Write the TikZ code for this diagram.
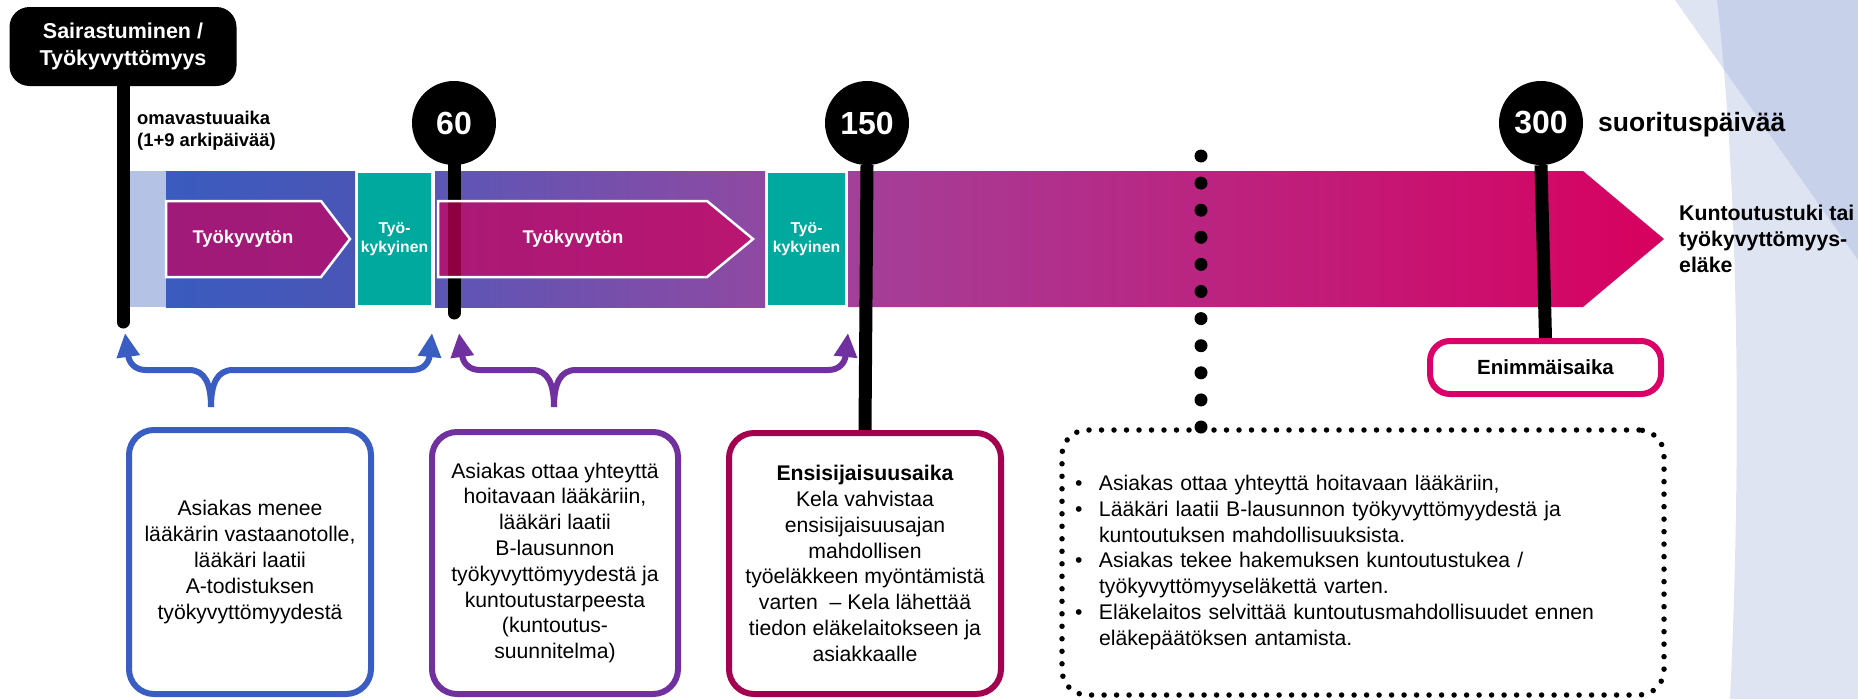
\documentclass[tikz,border=0pt]{standalone}
\usepackage{fontspec}
\setmainfont{Liberation Sans}
\usetikzlibrary{arrows.meta}

\definecolor{barpale}{HTML}{B4C2E6}
\definecolor{barblueA}{HTML}{3A5BBF}
\definecolor{barblueB}{HTML}{4A56B6}
\definecolor{barvioA}{HTML}{5B56B6}
\definecolor{barvioB}{HTML}{8F49A2}
\definecolor{barmagA}{HTML}{A3409A}
\definecolor{barmagM}{HTML}{CF2777}
\definecolor{barmagB}{HTML}{D8005F}
\definecolor{sickmag}{HTML}{CC005C}
\definecolor{fitteal}{HTML}{00A99D}
\definecolor{kblue}{HTML}{3A5DC4}
\definecolor{kpurple}{HTML}{7030A0}
\definecolor{kcrimson}{HTML}{A40050}
\definecolor{kpink}{HTML}{DB0068}
\definecolor{bgblue}{HTML}{8D9FD4}

\begin{document}
\begin{tikzpicture}[x=1pt,y=-1pt,
    startbox/.style={fill=black,text=white,rounded corners=20pt,minimum width=227pt,
      minimum height=79pt,align=center,inner sep=0pt,font=\fontsize{21.5}{27}\selectfont\bfseries},
    daycircle/.style={circle,fill=black,text=white,minimum size=84pt,inner sep=0pt,
      font=\fontsize{32}{36}\selectfont\bfseries},
    stick/.style={line width=13pt},
    fitbox/.style={fill=fitteal,draw=white,line width=2.5pt,text=white,align=center,
      minimum height=134pt,inner sep=0pt,font=\fontsize{15.7}{18.5}\selectfont\bfseries},
    sickarrow/.style={fill=sickmag,fill opacity=0.7,draw=white,line width=2.5pt},
    sicktext/.style={text=white,inner sep=0pt,font=\fontsize{18.4}{22}\selectfont\bfseries},
    tag/.style={align=left,inner sep=0pt,font=\fontsize{18.4}{22}\selectfont\bfseries},
    infobox/.style={line width=6pt,rounded corners=25pt,align=center,inner sep=0pt,
      font=\fontsize{21.2}{25.8}\selectfont},
    dotbox/.style={draw,line width=5.5pt,line cap=round,dash pattern=on 0pt off 12.5pt,
      rounded corners=25pt,minimum width=602pt,minimum height=265pt,text width=576pt,
      align=left,inner sep=0pt,font=\fontsize{21.2}{25.8}\selectfont},
    dotline/.style={line width=13pt,line cap=round,dash pattern=on 0pt off 27.1pt},
    brace/.style={line width=6pt,-{Triangle[length=24pt,width=22pt]}},
    bgshape/.style={fill=bgblue,fill opacity=0.28}]

  \useasboundingbox (0,0) rectangle (1858,699);

  \fill[bgshape] (1675,0) -- (1858,0) -- (1858,260) -- cycle;
  \fill[bgshape] (1717,0) .. controls (1738,180) and (1742,450) .. (1730,699)
    -- (1858,699) -- (1858,0) -- cycle;

  \fill[barpale] (126,171) rectangle (166,307);
  \shade[left color=barblueA,right color=barblueB] (166,171) rectangle (355,307);
  \shade[left color=barvioA,right color=barvioB] (435,171) rectangle (765,307);
  \shade[left color=barmagA,middle color=barmagM,right color=barmagB]
    (848,171) -- (1583,171) -- (1664,239) -- (1583,307) -- (848,307) -- cycle;

  \node[startbox] (start) at (123,46.5) {Sairastuminen /\\Työkyvyttömyys};
  \node[tag,anchor=west] (own) at (137,131) {omavastuuaika\\(1+9 arkipäivää)};
  \node[daycircle] (d60) at (454,123) {60};
  \node[daycircle] (d150) at (867,123) {150};
  \node[daycircle] (d300) at (1541,123) {300};
  \node[tag,anchor=west,font=\fontsize{26.5}{30}\selectfont\bfseries] (days) at (1598,125) {suorituspäivää};
  \node[tag,anchor=west,font=\fontsize{21.3}{26}\selectfont\bfseries] (pension) at (1679,239)
    {Kuntoutustuki tai\\työkyvyttömyys-\\eläke};

  \node[fitbox,minimum width=75pt] (fit1) at (394.5,239) {Työ-\\kykyinen};
  \node[fitbox,minimum width=79pt] (fit2) at (806.5,239) {Työ-\\kykyinen};

  \node[infobox,draw=kblue,minimum width=242pt,minimum height=264pt] (doc1) at (250,562)
    {Asiakas menee\\lääkärin vastaanotolle,\\lääkäri laatii\\A-todistuksen\\työkyvyttömyydestä};
  \node[infobox,draw=kpurple,minimum width=246pt,minimum height=262pt] (doc2) at (555,563)
    {Asiakas ottaa yhteyttä\\hoitavaan lääkäriin,\\lääkäri laatii\\B-lausunnon\\työkyvyttömyydestä ja\\kuntoutustarpeesta\\(kuntoutus-\\suunnitelma)};
  \node[infobox,draw=kcrimson,minimum width=272pt,minimum height=261pt] (prio) at (865,563.5)
    {\textbf{Ensisijaisuusaika}\\Kela vahvistaa\\ensisijaisuusajan\\mahdollisen\\työeläkkeen myöntämistä\\varten~ – Kela lähettää\\tiedon eläkelaitokseen ja\\asiakkaalle};
  \node[infobox,draw=kpink,rounded corners=20pt,minimum width=231pt,minimum height=53pt,
    font=\fontsize{20.5}{24}\selectfont\bfseries] (maxt) at (1545.5,367.5) {Enimmäisaika};
  \node[dotbox] (after) at (1363,562.5)
    {\makebox[24pt][l]{\textbullet}Asiakas ottaa yhteyttä hoitavaan lääkäriin,\\
     \makebox[24pt][l]{\textbullet}Lääkäri laatii B-lausunnon työkyvyttömyydestä ja\\
     \hspace*{24pt}kuntoutuksen mahdollisuuksista.\\
     \makebox[24pt][l]{\textbullet}Asiakas tekee hakemuksen kuntoutustukea /\\
     \hspace*{24pt}työkyvyttömyyseläkettä varten.\\
     \makebox[24pt][l]{\textbullet}Eläkelaitos selvittää kuntoutusmahdollisuudet ennen\\
     \hspace*{24pt}eläkepäätöksen antamista.};

  \coordinate (s0) at (123,322);
  \coordinate (s60) at (454,313);
  \coordinate (dottop) at (1201,156);
  \coordinate (dotbot) at (1201,427);
  \coordinate (b1m) at (211,407);
  \coordinate (b1l) at (125,333);
  \coordinate (b1r) at (432,333);
  \coordinate (b2m) at (554,407);
  \coordinate (b2l) at (459,333);
  \coordinate (b2r) at (848,333);

  \draw[stick,line cap=round] (start.south) -- (s0);
  \draw[stick,line cap=round] (d60.south) -- (s60);
  \draw[stick] (d150.south) -- (prio.north);
  \draw[stick] (d300.south) -- (maxt.north);

  \filldraw[sickarrow] (166,201) -- (321,201) -- (350,239) -- (321,277) -- (166,277) -- cycle;
  \node[sicktext] (sick1) at (243,239) {Työkyvytön};
  \filldraw[sickarrow] (438,201) -- (707,201) -- (753,239) -- (707,277) -- (438,277) -- cycle;
  \node[sicktext] (sick2) at (573,239) {Työkyvytön};

  \draw[dotline] (dottop) -- (dotbot);

  \draw[brace,kblue] (b1m) .. controls (211,384) and (205,370) .. (189,370) -- (146,370)
    .. controls (134,370) and (129,362) .. (b1l);
  \draw[brace,kblue] (b1m) .. controls (211,384) and (217,370) .. (233,370) -- (412,370)
    .. controls (424,370) and (429,362) .. (b1r);
  \draw[brace,kpurple] (b2m) .. controls (554,384) and (548,370) .. (532,370) -- (480,370)
    .. controls (468,370) and (463,362) .. (b2l);
  \draw[brace,kpurple] (b2m) .. controls (554,384) and (560,370) .. (576,370) -- (828,370)
    .. controls (840,370) and (845,362) .. (b2r);
\end{tikzpicture}
\end{document}
